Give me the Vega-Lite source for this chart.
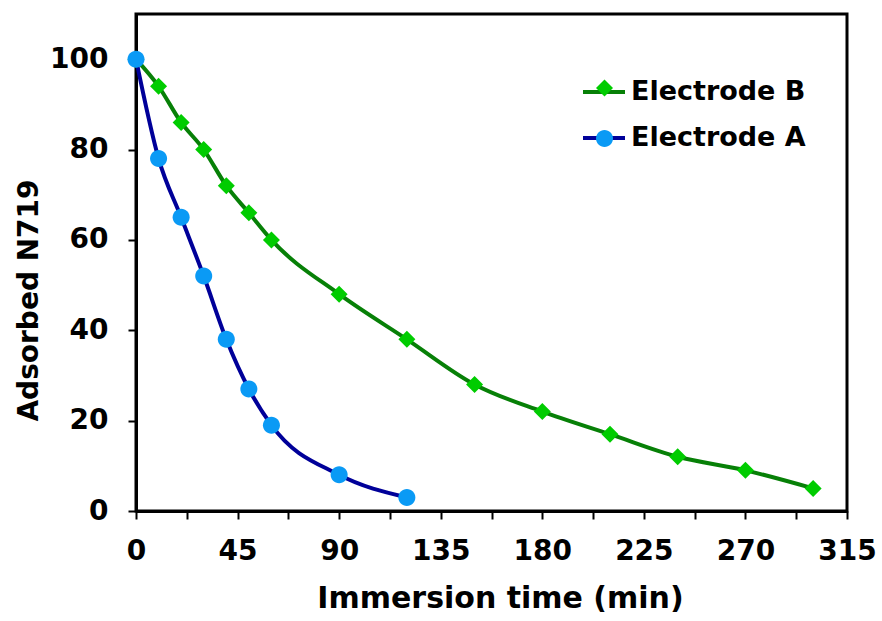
{
  "$schema": "https://vega.github.io/schema/vega-lite/v6.json",
  "width": 711,
  "height": 497,
  "autosize": "none",
  "padding": {"left": 136, "top": 14, "right": 35, "bottom": 110},
  "background": "white",
  "config": {
    "font": "DejaVu Sans",
    "view": {"stroke": "black", "strokeWidth": 3},
    "axis": {
      "grid": false,
      "domainColor": "black",
      "domainWidth": 3,
      "tickColor": "black",
      "tickWidth": 2,
      "tickSize": 8,
      "labelFont": "DejaVu Sans",
      "labelFontWeight": "bold",
      "labelFontSize": 28,
      "labelColor": "black",
      "titleFont": "DejaVu Sans",
      "titleFontWeight": "bold",
      "titleFontSize": 28,
      "titleColor": "black"
    },
    "legend": {
      "labelFont": "DejaVu Sans",
      "labelFontWeight": "bold",
      "labelFontSize": 27,
      "labelColor": "black",
      "labelLimit": 400,
      "padding": 0
    }
  },
  "data": {
    "values": [
      {"series": "Electrode B", "time": 0, "value": 100},
      {"series": "Electrode B", "time": 10, "value": 94},
      {"series": "Electrode B", "time": 20, "value": 86},
      {"series": "Electrode B", "time": 30, "value": 80},
      {"series": "Electrode B", "time": 40, "value": 72},
      {"series": "Electrode B", "time": 50, "value": 66},
      {"series": "Electrode B", "time": 60, "value": 60},
      {"series": "Electrode B", "time": 90, "value": 48},
      {"series": "Electrode B", "time": 120, "value": 38},
      {"series": "Electrode B", "time": 150, "value": 28},
      {"series": "Electrode B", "time": 180, "value": 22},
      {"series": "Electrode B", "time": 210, "value": 17},
      {"series": "Electrode B", "time": 240, "value": 12},
      {"series": "Electrode B", "time": 270, "value": 9},
      {"series": "Electrode B", "time": 300, "value": 5},
      {"series": "Electrode A", "time": 0, "value": 100},
      {"series": "Electrode A", "time": 10, "value": 78},
      {"series": "Electrode A", "time": 20, "value": 65},
      {"series": "Electrode A", "time": 30, "value": 52},
      {"series": "Electrode A", "time": 40, "value": 38},
      {"series": "Electrode A", "time": 50, "value": 27},
      {"series": "Electrode A", "time": 60, "value": 19},
      {"series": "Electrode A", "time": 90, "value": 8},
      {"series": "Electrode A", "time": 120, "value": 3}
    ]
  },
  "encoding": {
    "x": {
      "field": "time",
      "type": "quantitative",
      "scale": {"domain": [0, 315], "nice": false, "zero": false},
      "axis": {
        "title": "Immersion time (min)",
        "titleFontSize": 30,
        "titleX": 364,
        "values": [0, 22.5, 45, 67.5, 90, 112.5, 135, 157.5, 180, 202.5, 225, 247.5, 270, 292.5, 315],
        "labelExpr": "datum.value % 45 === 0 ? format(datum.value, 'd') : ''",
        "labelPadding": 18,
        "titlePadding": 18,
        "labelFlush": false
      }
    },
    "y": {
      "field": "value",
      "type": "quantitative",
      "scale": {"domain": [0, 110], "nice": false},
      "axis": {
        "title": "Adsorbed N719",
        "titleFontSize": 28,
        "titleY": 286,
        "values": [0, 20, 40, 60, 80, 100],
        "labelPadding": 20,
        "titlePadding": 6
      }
    }
  },
  "layer": [
    {
      "mark": {"type": "line", "interpolate": "monotone", "strokeWidth": 4},
      "encoding": {
        "color": {
          "field": "series",
          "type": "nominal",
          "scale": {"domain": ["Electrode B", "Electrode A"], "range": ["#078007", "#000099"]},
          "legend": {
            "title": null,
            "orient": "none",
            "legendX": 445,
            "legendY": 55,
            "symbolType": "stroke",
            "symbolSize": 1764,
            "symbolStrokeWidth": 4,
            "rowPadding": 10,
            "labelOffset": 4,
            "zindex": 1
          }
        }
      }
    },
    {
      "mark": {"type": "point", "filled": true, "opacity": 1, "strokeWidth": 0},
      "encoding": {
        "color": {
          "field": "series",
          "type": "nominal",
          "scale": {"domain": ["Electrode B", "Electrode A"], "range": ["#00cc00", "#0a9af5"]},
          "legend": {
            "title": null,
            "orient": "none",
            "legendX": 445,
            "legendY": 55,
            "symbolSize": 1764,
            "symbolStrokeWidth": 4,
            "symbolStrokeColor": "transparent",
            "symbolOpacity": 1,
            "rowPadding": 10,
            "labelOffset": 4,
            "labelExpr": "''",
            "zindex": 2
          }
        },
        "shape": {
          "field": "series",
          "type": "nominal",
          "scale": {"domain": ["Electrode B", "Electrode A"], "range": ["M0,-0.5L0.5,0L0,0.5L-0.5,0Z", "M-0.4,0A0.4,0.4 0 1,0 0.4,0A0.4,0.4 0 1,0 -0.4,0Z"]},
          "legend": {
            "title": null,
            "orient": "none",
            "legendX": 445,
            "legendY": 55,
            "symbolSize": 1764,
            "symbolStrokeWidth": 4,
            "symbolStrokeColor": "transparent",
            "symbolOpacity": 1,
            "rowPadding": 10,
            "labelOffset": 4,
            "labelExpr": "''",
            "zindex": 2
          }
        },
        "size": {
          "field": "series",
          "type": "nominal",
          "scale": {"domain": ["Electrode B", "Electrode A"], "range": [1156, 1806]},
          "legend": null
        }
      }
    }
  ],
  "resolve": {
    "scale": {"color": "independent", "shape": "independent", "size": "independent"},
    "legend": {"color": "independent", "shape": "independent", "size": "independent"}
  }
}
